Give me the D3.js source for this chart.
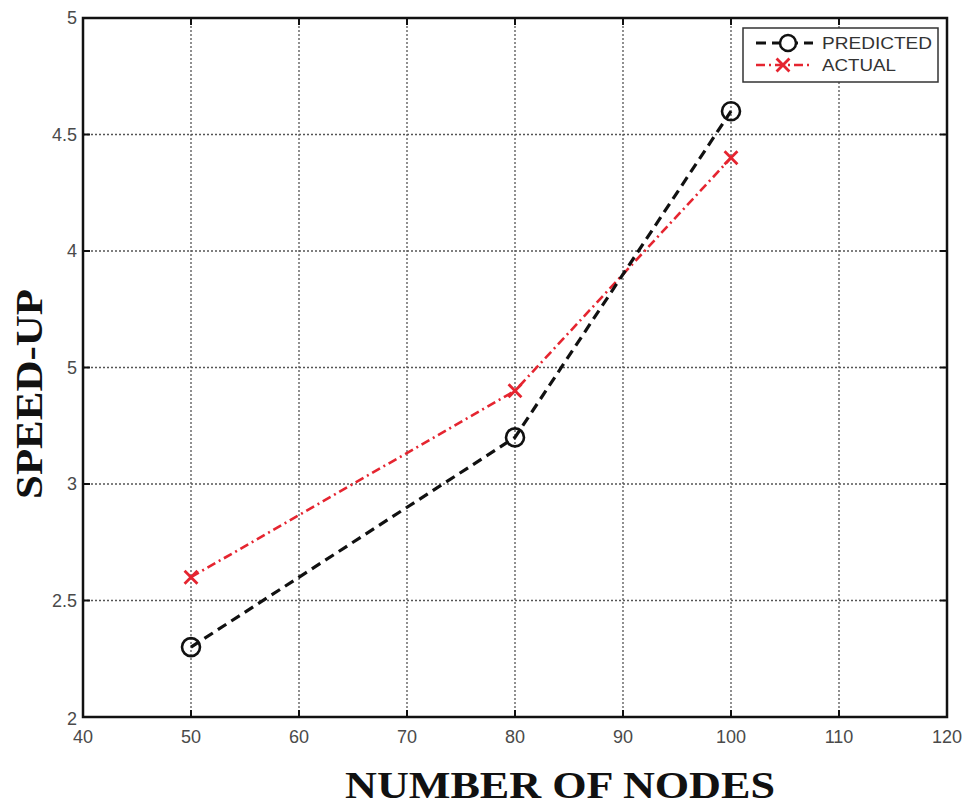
<!DOCTYPE html>
<html>
<head>
<meta charset="utf-8">
<script src="https://cdn.jsdelivr.net/npm/d3@7"></script>
<style>
  body { margin: 0; background: #fff; }
  svg { display: block; }
</style>
</head>
<body>
<div id="chart"></div>
<script>
// values
var nodes = [50, 80, 100];
var predicted = [2.3, 3.2, 4.6];
var actual = [2.6, 3.4, 4.4];
var xTicks = [40, 50, 60, 70, 80, 90, 100, 110, 120];
var yTicks = [2, 2.5, 3, 3.5, 4, 4.5, 5];
// the original figure prints "5" where 3.5 should be
var yTickLabels = ["2", "2.5", "3", "5", "4", "4.5", "5"];

var width = 965;
var height = 805;
var margin = {top: 18, right: 18, bottom: 88, left: 83};
var plotW = width - margin.left - margin.right;
var plotH = height - margin.top - margin.bottom;

const svg = d3.select("#chart")
    .append("svg")
    .attr("width", width)
    .attr("height", height);

const g = svg.append("g")
    .attr("transform", `translate(${margin.left},${margin.top})`);

var x = d3.scaleLinear().domain([40, 120]).range([0, plotW]);
var y = d3.scaleLinear().domain([2, 5]).range([plotH, 0]);

// dotted grid
g.append("g")
    .selectAll("line")
    .data(xTicks)
    .join("line")
      .attr("x1", d => x(d)).attr("x2", d => x(d))
      .attr("y1", 0).attr("y2", plotH)
      .attr("stroke", "#555")
      .attr("stroke-width", 1.3)
      .attr("stroke-dasharray", "2,2");
g.append("g")
    .selectAll("line")
    .data(yTicks)
    .join("line")
      .attr("y1", d => y(d)).attr("y2", d => y(d))
      .attr("x1", 0).attr("x2", plotW)
      .attr("stroke", "#555")
      .attr("stroke-width", 1.3)
      .attr("stroke-dasharray", "2,2");

// inward tick marks on all four sides
var tickLen = 7;
g.append("g")
    .selectAll("line")
    .data(xTicks)
    .join("line")
      .attr("x1", d => x(d)).attr("x2", d => x(d))
      .attr("y1", plotH).attr("y2", plotH - tickLen)
      .attr("stroke", "#111").attr("stroke-width", 2);
g.append("g")
    .selectAll("line")
    .data(xTicks)
    .join("line")
      .attr("x1", d => x(d)).attr("x2", d => x(d))
      .attr("y1", 0).attr("y2", tickLen)
      .attr("stroke", "#111").attr("stroke-width", 2);
g.append("g")
    .selectAll("line")
    .data(yTicks)
    .join("line")
      .attr("y1", d => y(d)).attr("y2", d => y(d))
      .attr("x1", 0).attr("x2", tickLen)
      .attr("stroke", "#111").attr("stroke-width", 2);
g.append("g")
    .selectAll("line")
    .data(yTicks)
    .join("line")
      .attr("y1", d => y(d)).attr("y2", d => y(d))
      .attr("x1", plotW).attr("x2", plotW - tickLen)
      .attr("stroke", "#111").attr("stroke-width", 2);

// frame
g.append("rect")
    .attr("width", plotW)
    .attr("height", plotH)
    .attr("fill", "none")
    .attr("stroke", "#111")
    .attr("stroke-width", 2.5);

// tick labels
g.append("g")
    .attr("font-family", "Liberation Sans, Arial, sans-serif")
    .attr("font-size", 18)
    .attr("fill", "#4a4a4a")
    .selectAll("text")
    .data(xTicks)
    .join("text")
      .attr("x", d => x(d))
      .attr("y", plotH + 26)
      .attr("text-anchor", "middle")
      .text(d => d);
g.append("g")
    .attr("font-family", "Liberation Sans, Arial, sans-serif")
    .attr("font-size", 18)
    .attr("fill", "#4a4a4a")
    .selectAll("text")
    .data(yTicks)
    .join("text")
      .attr("x", -6)
      .attr("y", d => y(d) + (d === 2 ? 8 : 6))
      .attr("text-anchor", "end")
      .text((d, i) => yTickLabels[i]);

// lines
var line = d3.line()
    .x(d => x(d[0]))
    .y(d => y(d[1]));

var predData = nodes.map((n, i) => [n, predicted[i]]);
var actData = nodes.map((n, i) => [n, actual[i]]);

g.append("path")
    .datum(actData)
    .attr("d", line)
    .attr("fill", "none")
    .attr("stroke", "#e52530")
    .attr("stroke-width", 2.6)
    .attr("stroke-dasharray", "9,4,2,4");

g.append("path")
    .datum(predData)
    .attr("d", line)
    .attr("fill", "none")
    .attr("stroke", "#111")
    .attr("stroke-width", 3.2)
    .attr("stroke-dasharray", "10,6");

// markers
g.append("g")
    .selectAll("circle")
    .data(predData)
    .join("circle")
      .attr("cx", d => x(d[0]))
      .attr("cy", d => y(d[1]))
      .attr("r", 9)
      .attr("fill", "none")
      .attr("stroke", "#111")
      .attr("stroke-width", 2.6);

var cross = d3.symbol().type(d3.symbolX).size(110);
g.append("g")
    .selectAll("path")
    .data(actData)
    .join("path")
      .attr("transform", d => `translate(${x(d[0])},${y(d[1])})`)
      .attr("d", cross)
      .attr("fill", "#e52530")
      .attr("stroke", "#e52530")
      .attr("stroke-width", 2.8);

// legend
var legend = svg.append("g")
    .attr("transform", "translate(743,28)");
legend.append("rect")
    .attr("width", 195)
    .attr("height", 54)
    .attr("fill", "#fff")
    .attr("stroke", "#333")
    .attr("stroke-width", 1.5);

var legItems = [
    {name: "PREDICTED", color: "#111", dash: "10,6", w: 3, marker: "circle", len: 110},
    {name: "ACTUAL", color: "#e52530", dash: "9,4,2,4", w: 2.5, marker: "x", len: 74}
];
var leg = legend.selectAll("g")
    .data(legItems)
    .join("g")
      .attr("transform", (d, i) => `translate(0,${15 + i * 22})`);
leg.append("line")
    .attr("x1", 13).attr("x2", 70)
    .attr("stroke", d => d.color)
    .attr("stroke-width", d => d.w)
    .attr("stroke-dasharray", d => d.dash);
leg.filter(d => d.marker === "circle")
    .append("circle")
    .attr("cx", 45)
    .attr("r", 8)
    .attr("fill", "#fff")
    .attr("stroke", "#111")
    .attr("stroke-width", 2.5);
leg.filter(d => d.marker === "x")
    .append("path")
    .attr("transform", "translate(40,0)")
    .attr("d", cross)
    .attr("fill", "#e52530")
    .attr("stroke", "#e52530")
    .attr("stroke-width", 2.8);
leg.append("text")
    .attr("x", 79)
    .attr("dy", "0.36em")
    .attr("font-family", "Liberation Sans, Arial, sans-serif")
    .attr("font-size", 17)
    .attr("fill", "#333")
    .attr("textLength", d => d.len)
    .attr("lengthAdjust", "spacingAndGlyphs")
    .text(d => d.name);

// axis titles
svg.append("text")
    .attr("x", 560)
    .attr("y", 798)
    .attr("text-anchor", "middle")
    .attr("font-family", "Liberation Serif, Times New Roman, serif")
    .attr("font-weight", "bold")
    .attr("font-size", 38)
    .attr("fill", "#111")
    .attr("textLength", 430)
    .attr("lengthAdjust", "spacingAndGlyphs")
    .text("NUMBER OF NODES");

svg.append("text")
    .attr("transform", "translate(42,394) rotate(-90)")
    .attr("text-anchor", "middle")
    .attr("font-family", "Liberation Serif, Times New Roman, serif")
    .attr("font-weight", "bold")
    .attr("font-size", 38)
    .attr("fill", "#111")
    .attr("textLength", 210)
    .attr("lengthAdjust", "spacingAndGlyphs")
    .text("SPEED-UP");
</script>
</body>
</html>
